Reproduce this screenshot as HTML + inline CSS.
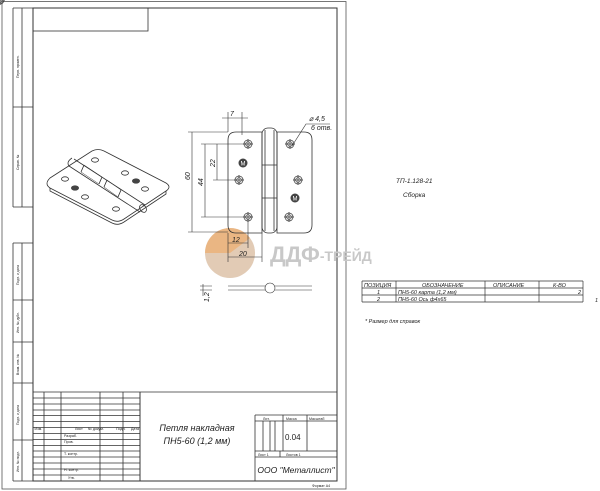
<!DOCTYPE html>
<html><head><meta charset="utf-8"><style>
body{margin:0;background:#fff}
svg{display:block}
text{font-family:"Liberation Sans",sans-serif;fill:#222}
.i{font-style:italic}
</style></head><body>
<svg width="600" height="491" viewBox="0 0 600 491" xmlns="http://www.w3.org/2000/svg">
<g fill="none" stroke="#333" stroke-width="0.8">
<rect x="2" y="1.5" width="344" height="487.5" stroke="#555"/>
<rect x="33" y="8" width="304" height="473" stroke-width="1"/>
<path d="M13 8V207 M22 8V207 M13 8H33 M13 107H33 M13 207H33"/>
<path d="M13 243V481 M22 243V481 M13 243H33 M13 300H33 M13 342H33 M13 383H33 M13 440H33 M13 481H33"/>
<rect x="33" y="8" width="115" height="23"/>
<path d="M33 392H337 M140 392V481 M255 415V481"/>
<path d="M33 398H140 M33 404H140 M33 410H140 M33 415.5H140 M33 421.5H140 M33 427.5H140 M33 433.5H140 M33 439.5H140 M33 445.5H140 M33 451H140 M33 457H140 M33 463H140 M33 469H140 M33 475H140"/>
<path d="M44 392V481 M61 392V481 M100 392V481 M123 392V481 M140 392V481" />
<path d="M255 415H337 M255 421H337 M255 451H337 M255 457H337 M283 415V451 M307 415V451 M263 421V451 M270 421V451 M275 421V451 M280 451V457"/>
</g>
<g font-size="3.6" fill="#333">
<text x="34.5" y="430">Изм.</text><text x="75" y="430">Лист</text><text x="88" y="430">№ докум.</text><text x="116" y="430">Подп.</text><text x="131" y="430">Дата</text>
<text x="64" y="437">Разраб.</text><text x="64" y="443">Пров.</text><text x="64" y="455">Т. контр.</text>
<text x="64" y="471">Н. контр.</text><text x="68" y="479">Утв.</text>
<text x="263" y="420">Лит.</text><text x="286" y="420">Масса</text><text x="309" y="420">Масштаб</text>
<text x="258" y="456">Лист 1</text><text x="286" y="456">Листов 1</text>
<text x="312" y="487">Формат А4</text>
</g>
<g font-size="3.4" fill="#333">
<text transform="translate(19,78) rotate(-90)">Перв. примен.</text>
<text transform="translate(19,170) rotate(-90)">Справ. №</text>
<text transform="translate(19,285) rotate(-90)">Подп. и дата</text>
<text transform="translate(19,333) rotate(-90)">Инв. № дубл.</text>
<text transform="translate(19,375) rotate(-90)">Взам. инв. №</text>
<text transform="translate(19,425) rotate(-90)">Подп. и дата</text>
<text transform="translate(19,472) rotate(-90)">Инв. № подл.</text>
</g>
<text class="i" x="197" y="431" font-size="9" text-anchor="middle">Петля накладная</text>
<text class="i" x="197" y="444" font-size="9" text-anchor="middle">ПН5-60 (1,2 мм)</text>
<text x="285" y="440" font-size="8">0.04</text>
<text class="i" x="296" y="473" font-size="8.5" text-anchor="middle">ООО "Металлист"</text>

<!-- logo watermark -->
<circle cx="230" cy="253" r="25" fill="#bbb" opacity="0.55"/>
<path d="M205 253A25 25 0 0 1 250 238L230 253Z" fill="#f0a050" opacity="0.55"/>
<circle cx="230" cy="253" r="25" fill="#f2b070" opacity="0.35"/>
<text x="270" y="262" font-size="22" font-weight="bold" style="fill:#c8c8c8">ДДФ<tspan font-size="14" dy="-1">-ТРЕЙД</tspan></text>

<!-- front view -->
<g fill="none" stroke="#333" stroke-width="0.8">
<path d="M236 132H262 V233 H236 Q228 233 228 225 V140 Q228 132 236 132Z"/>
<path d="M277 132H304 Q312 132 312 140 V225 Q312 233 304 233 H277Z"/>
<rect x="262" y="128" width="15" height="105" rx="6"/>
<path d="M262 165H277 M262 198H277 M265 130V231 M274 130V231"/>
<g id="h"><circle r="4"/><circle r="2.3"/><path d="M-5 0H5 M0 -5V5"/></g>
</g>
<g fill="none" stroke="#333" stroke-width="0.7">
<use href="#h" x="248" y="144"/><use href="#h" x="239" y="180"/><use href="#h" x="248" y="217"/>
<use href="#h" x="290" y="144"/><use href="#h" x="298" y="180"/><use href="#h" x="289" y="217"/>
</g>
<circle cx="243" cy="163" r="4.5" fill="#444"/><text x="243" y="165.5" font-size="6" text-anchor="middle" style="fill:#fff">M</text>
<circle cx="295" cy="198" r="4.5" fill="#444"/><text x="295" y="200.5" font-size="6" text-anchor="middle" style="fill:#fff">M</text>
<g fill="none" stroke="#333" stroke-width="0.6">
<path d="M188 132H228 M188 232H228 M192 132V232 M201 144H244 M201 217H244 M205 144V217 M213 180H235 M217 144V180"/>
<path d="M228 112V132 M242 112V135 M222 118H248"/>
<path d="M228 233V262 M248 221V248 M262 233V262 M228 243H248 M228 257H262"/>
<path d="M292 146L306 124H330"/>
<path d="M203 284V296 M200 286H212 M200 290H212"/>
<path d="M228 286H265 M275 286H312 M228 290H265 M275 290H312"/>
<circle cx="270" cy="288" r="5"/>
</g>
<g font-size="7" class="i">
<text transform="translate(190,180) rotate(-90)">60</text>
<text transform="translate(203,186) rotate(-90)">44</text>
<text transform="translate(215,167) rotate(-90)">22</text>
<text x="230" y="116">7</text>
<text x="309" y="121">⌀ 4,5</text>
<text x="311" y="130">6 отв.</text>
<text x="232" y="242">12</text>
<text x="239" y="256">20</text>
<text transform="translate(209,302) rotate(-90)">1,2</text>
</g>

<!-- iso view -->
<g fill="none" stroke="#333" stroke-width="0.8">
<path d="M50 178 L92 151 Q98 148 104 151 L166 183 Q172 187 166 191 L124 219 Q118 223 112 220 L50 188 Q44 184 50 178Z"/>
<path d="M50 188 L50 191 L112 223 Q118 226 124 222 L166 194 L166 191"/>
<path d="M74 159 L145 205 M69 166 L140 212 M72 158 Q66 162 69 166"/>
<path d="M84 165 L81 172 M102 177 L99 184 M107 180 L104 187 M121 190 L118 197"/>
<path d="M84 165 L102 177 L99 184 L81 172Z M107 180 L121 190 L118 197 L104 187Z" stroke-width="0.5"/>
<ellipse cx="143" cy="208.5" rx="3" ry="4.2" transform="rotate(-35 143 208.5)"/>
<ellipse cx="95" cy="160" rx="3.5" ry="2.2"/><ellipse cx="125" cy="173" rx="3.5" ry="2.2"/><ellipse cx="145" cy="189" rx="3.5" ry="2.2"/>
<ellipse cx="65" cy="179" rx="3.5" ry="2.2"/><ellipse cx="85" cy="197" rx="3.5" ry="2.2"/><ellipse cx="116" cy="209" rx="3.5" ry="2.2"/>
</g>
<ellipse cx="75" cy="188" rx="4" ry="2.6" fill="#444"/><ellipse cx="136" cy="181" rx="4" ry="2.6" fill="#444"/>

<text class="i" x="396" y="183" font-size="6.5">ТП-1.128-21</text>
<text class="i" x="403" y="197" font-size="6.5">Сборка</text>
<g fill="none" stroke="#333" stroke-width="0.7">
<path d="M362 281H583 M362 288H583 M362 295H583 M362 302H583 M362 281V302 M396 281V302 M485 281V302 M539 281V302 M583 281V302"/>
</g>
<g class="i" font-size="5.5">
<text x="364" y="287">ПОЗИЦИЯ</text><text x="422" y="287">ОБОЗНАЧЕНИЕ</text><text x="493" y="287">ОПИСАНИЕ</text><text x="553" y="287">К-ВО</text>
<text x="377" y="294">1</text><text x="398" y="294">ПН5-60 карта (1,2 мм)</text><text x="578" y="294">2</text>
<text x="377" y="301">2</text><text x="398" y="301">ПН5-60 Ось ф4х65</text><text x="595" y="302">1</text>
<text x="365" y="323">* Размер для справок</text>
</g>
</svg>
</body></html>
